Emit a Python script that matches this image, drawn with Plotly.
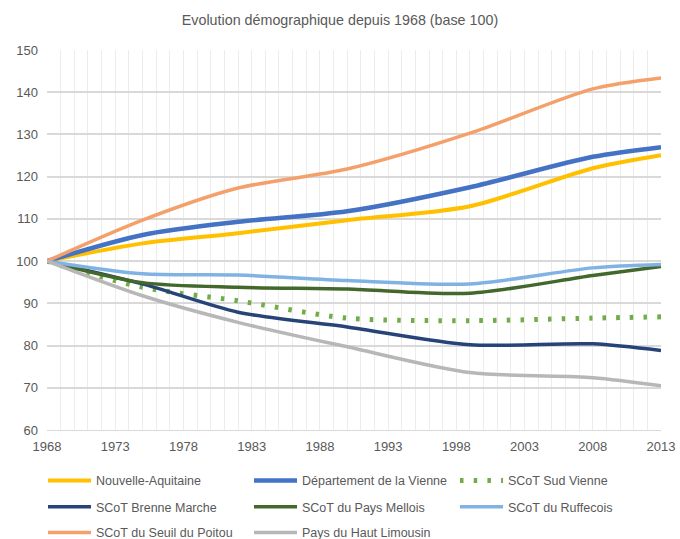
import plotly.graph_objects as go

years = [1968, 1975, 1982, 1990, 1999, 2008, 2013]

nouvelle_aquitaine = [100, 104.2, 106.6, 109.7, 113.0, 122.0, 125.1]
vienne = [100, 106.2, 109.3, 111.8, 117.5, 124.7, 127.0]
sud_vienne = [100, 93.8, 90.6, 86.5, 85.9, 86.5, 86.8]
brenne_marche = [100, 94.6, 87.9, 84.4, 80.2, 80.4, 78.8]
pays_mellois = [100, 94.9, 93.8, 93.4, 92.4, 96.6, 98.7]
ruffecois = [100, 97.0, 96.7, 95.4, 94.6, 98.4, 99.2]
seuil_poitou = [100, 109.7, 117.3, 121.8, 130.3, 140.8, 143.4]
haut_limousin = [100, 91.8, 85.5, 79.7, 73.6, 72.4, 70.5]

series = [
    ("Nouvelle-Aquitaine", nouvelle_aquitaine, "#FFC000", 4, "solid", "legend"),
    ("Département de la Vienne", vienne, "#4472C4", 4.5, "solid", "legend"),
    ("SCoT Sud Vienne", sud_vienne, "#70AD47", 5, "3.5px,10.2px", "legend"),
    ("SCoT Brenne Marche", brenne_marche, "#264478", 3.5, "solid", "legend2"),
    ("SCoT du Pays Mellois", pays_mellois, "#43682B", 3.5, "solid", "legend2"),
    ("SCoT du Ruffecois", ruffecois, "#80B3E3", 3.5, "solid", "legend2"),
    ("SCoT du Seuil du Poitou", seuil_poitou, "#F4A06A", 3.5, "solid", "legend3"),
    ("Pays du Haut Limousin", haut_limousin, "#B7B7B7", 3.5, "solid", "legend3"),
]

fig = go.Figure()
for name, vals, color, w, dash, leg in series:
    fig.add_trace(go.Scatter(
        x=years, y=vals, name=name, mode="lines", legend=leg,
        line=dict(color=color, width=w, dash=dash, shape="spline", smoothing=0.8),
    ))

font_family = "Liberation Sans, Arial, sans-serif"


def legend_row(y):
    return dict(orientation="h", x=-0.0065, xanchor="left", y=y, yanchor="middle",
                itemwidth=43, entrywidth=148, entrywidthmode="pixels",
                bgcolor="rgba(0,0,0,0)",
                font=dict(size=12.5, color="#595959"), traceorder="normal")


fig.update_layout(
    width=680, height=539,
    margin=dict(l=47, r=19, t=50, b=109, autoexpand=False),
    paper_bgcolor="white", plot_bgcolor="white",
    font=dict(family=font_family, size=13, color="#595959"),
    title=dict(text="Evolution démographique depuis 1968 (base 100)",
               x=0.5, xanchor="center", y=0.963, yanchor="middle",
               font=dict(size=14.3, color="#595959")),
    showlegend=True,
    legend=legend_row(-0.134),
    legend2=legend_row(-0.203),
    legend3=legend_row(-0.271),
    xaxis=dict(range=[1968, 2013], tickmode="array",
               tickvals=list(range(1968, 2014, 5)),
               showgrid=True, gridcolor="#ECECEC", gridwidth=1,
               minor=dict(dtick=1, tick0=1968, showgrid=True, gridcolor="#ECECEC", gridwidth=1),
               showline=True, linecolor="#D9D9D9", linewidth=1,
               zeroline=False, ticks="", ticklabelstandoff=4,
               tickfont=dict(size=13, color="#595959")),
    yaxis=dict(range=[60, 150], dtick=10, tick0=60,
               showgrid=True, gridcolor="#D9D9D9", gridwidth=1.5,
               zeroline=False, ticks="", ticklabelstandoff=8,
               tickfont=dict(size=13, color="#595959")),
)

fig.write_html("out.html", config={"displayModeBar": False})

# remove the default browser body margin so the figure sits at the window origin
with open("out.html", "r", encoding="utf-8") as f:
    html = f.read()
html = html.replace("<head>", "<head><style>html,body{margin:0;padding:0;overflow:hidden;}</style>", 1)
with open("out.html", "w", encoding="utf-8") as f:
    f.write(html)
